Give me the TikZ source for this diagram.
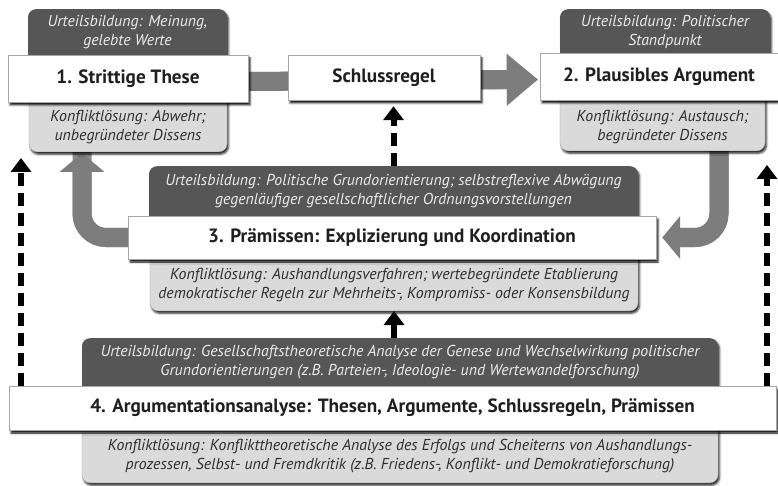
\documentclass[tikz,border=0pt]{standalone}
\usepackage{fontspec}
\setmainfont{PT Sans}
\usetikzlibrary{arrows.meta,shadows.blur}

\definecolor{panelDark}{RGB}{86,86,86}
\definecolor{panelLight}{RGB}{218,218,218}
\definecolor{flowGray}{RGB}{125,125,125}
\definecolor{inkDark}{RGB}{45,45,45}
\definecolor{inkLight}{RGB}{236,236,236}

\tikzset{
  softshadow/.style={blur shadow={shadow xshift=1.5pt,shadow yshift=-2.5pt,
      shadow blur steps=4,shadow opacity=85}},
  darkpanel/.style={fill=panelDark,rounded corners=8pt,inner sep=0pt,softshadow},
  lightpanel/.style={fill=panelLight,draw=gray!65,line width=0.4pt,
      rounded corners=8pt,inner sep=0pt,softshadow},
  stagebox/.style={fill=white,draw=gray!70,line width=0.6pt,inner sep=0pt,
      text=black!88,font=\bfseries\fontsize{19.2}{22}\selectfont,
      blur shadow={shadow xshift=2pt,shadow yshift=-3pt,
      shadow blur steps=3,shadow opacity=95}},
  darktext/.style={text=inkLight,align=center,inner sep=0pt,
      font=\itshape\fontsize{15.8}{19}\selectfont},
  lighttext/.style={text=inkDark,align=center,inner sep=0pt,
      font=\itshape\fontsize{15.8}{19}\selectfont},
  flow/.style={draw=flowGray,line width=19pt},
  flowshade/.style={draw=black,opacity=0.45,line width=19pt},
  dasharrow/.style={line width=6pt,dash pattern=on 13pt off 7pt,
      -{Triangle[width=20pt,length=14pt]}},
  solidarrow/.style={line width=6pt,-{Triangle[width=20pt,length=14pt]}},
}

\begin{document}
\begin{tikzpicture}[x=1pt,y=-1pt]
\useasboundingbox (0,0) rectangle (778,486);

% free ends of the arrows
\coordinate (leftTip)  at (21,158);
\coordinate (rightTip) at (767,165);
\coordinate (loopTip)  at (82,153);
\coordinate (dropTop)  at (719,140);

% ---------- stage boxes (positions only, drawn later on top) ----------
\path (128,78.5)  node[minimum width=240pt,minimum height=47pt] (t1) {};
\path (384,77.5)  node[minimum width=192pt,minimum height=45pt] (sr) {};
\path (659,76.5)  node[minimum width=238pt,minimum height=47pt] (t2) {};
\path (392,237.5) node[minimum width=528pt,minimum height=43pt] (t3) {};
\path (392.5,408) node[minimum width=767pt,minimum height=44pt] (t4) {};

% ---------- broad grey flow arrows ----------
\begin{scope}[xshift=2pt,yshift=-2pt]
  \draw[flowshade] ([yshift=-3pt]t1.east) -- ([yshift=-3pt,xshift=-33pt]t2.west);
  \fill[black,opacity=0.45] ([xshift=-33pt,yshift=-28pt]t2.west) -- ([xshift=-2pt,yshift=-3pt]t2.west)
       -- ([xshift=-33pt,yshift=22pt]t2.west) -- cycle;
  \draw[flowshade,rounded corners=24pt] (t3.west) -| ([yshift=19pt]loopTip);
  \draw[flowshade,rounded corners=24pt] (dropTop) |- ([xshift=24pt]t3.east);
\end{scope}
\draw[flow,-{Triangle[width=50pt,length=31pt]}]
  ([yshift=-3pt]t1.east) -- ([yshift=-3pt,xshift=-2pt]t2.west);
\draw[flow,rounded corners=24pt,-{Triangle[width=44pt,length=19pt]}]
  (t3.west) -| (loopTip);
\draw[flow,rounded corners=24pt,-{Triangle[width=42pt,length=18pt]}]
  (dropTop) |- ([xshift=6pt]t3.east);

% ---------- panels above and below each stage ----------
\node[darkpanel,minimum width=199pt,minimum height=62pt,anchor=north]  (d1) at (127.5,9) {};
\node[lightpanel,minimum width=198pt,minimum height=62pt,anchor=south] (l1) at (128,152) {};
\node[darkpanel,minimum width=210pt,minimum height=62pt,anchor=north]  (d2) at (665,9) {};
\node[lightpanel,minimum width=205pt,minimum height=62pt,anchor=south] (l2) at (662.5,151) {};
\node[darkpanel,minimum width=489pt,minimum height=62pt,anchor=north]  (d3) at (393.5,166) {};
\node[lightpanel,minimum width=488pt,minimum height=62pt,anchor=south] (l3) at (394,311) {};
\node[darkpanel,minimum width=636pt,minimum height=62pt,anchor=north]  (d4) at (400,338) {};
\node[lightpanel,minimum width=636pt,minimum height=62pt,anchor=south] (l4) at (400,483) {};

\node[darktext]  (d1t) at (127.5,32) {Urteilsbildung: Meinung,\\gelebte Werte};
\node[lighttext] (l1t) at (128,127) {Konfliktlösung: Abwehr;\\unbegründeter Dissens};
\node[darktext]  (d2t) at (665,32) {Urteilsbildung: Politischer\\Standpunkt};
\node[lighttext] (l2t) at (662.5,127) {Konfliktlösung: Austausch;\\begründeter Dissens};
\node[darktext]  (d3t) at (393.5,191.5) {Urteilsbildung: Politische Grundorientierung; selbstreflexive Abwägung\\gegenläufiger gesellschaftlicher Ordnungsvorstellungen};
\node[lighttext] (l3t) at (394,285) {Konfliktlösung: Aushandlungsverfahren; wertebegründete Etablierung\\demokratischer Regeln zur Mehrheits-, Kompromiss- oder Konsensbildung};
\node[darktext]  (d4t) at (400,362) {Urteilsbildung: Gesellschaftstheoretische Analyse der Genese und Wechselwirkung politischer\\Grundorientierungen (z.B. Parteien-, Ideologie- und Wertewandelforschung)};
\node[lighttext] (l4t) at (400,456.5) {Konfliktlösung: Konflikttheoretische Analyse des Erfolgs und Scheiterns von Aushandlungs-\\prozessen, Selbst- und Fremdkritik (z.B. Friedens-, Konflikt- und Demokratieforschung)};

% ---------- white stage boxes ----------
\node[stagebox,minimum width=240pt,minimum height=47pt] at (t1) {1. Strittige These};
\node[stagebox,minimum width=192pt,minimum height=45pt] at (sr) {Schlussregel};
\node[stagebox,minimum width=238pt,minimum height=47pt] at (t2) {2. Plausibles Argument};
\node[stagebox,minimum width=528pt,minimum height=43pt] at (t3) {3. Prämissen: Explizierung und Koordination};
\node[stagebox,minimum width=767pt,minimum height=44pt] at (t4) {4. Argumentationsanalyse: Thesen, Argumente, Schlussregeln, Prämissen};

% ---------- black arrows ----------
\draw[dasharrow] (t4.north -| leftTip) -- (leftTip);
\draw[dasharrow] (t4.north -| rightTip) -- (rightTip);
\draw[dasharrow,shorten >=6pt] (d3.north) -- (d3.north |- sr.south);
\draw[solidarrow] (l3.south |- d4.north) -- (l3.south);
\end{tikzpicture}
\end{document}
